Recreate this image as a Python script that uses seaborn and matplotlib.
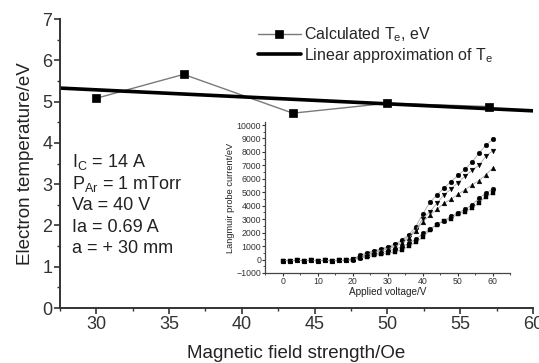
import numpy as np
import pandas as pd
import matplotlib
matplotlib.use("Agg")
import matplotlib.pyplot as plt
import seaborn as sns

# ---------------- data ----------------
field_oe = [30, 36, 43.5, 50, 57]
te_ev = [5.08, 5.66, 4.72, 4.96, 4.88]

voltage = list(range(0, 62, 2))
flat = [-80, -80, -70, -80, -70, -80, -70, -80, -70, -60]
cur_a = flat + [50, 300, 500, 650, 800, 950, 1150, 1450, 1850, 2450, 3400,
                4250, 4800, 5300, 5800, 6250, 6700, 7230, 7900, 8500, 8950]
cur_b = flat + [30, 250, 420, 580, 720, 880, 1050, 1300, 1750, 2200, 3050,
                3550, 4180, 4800, 5230, 5720, 6180, 6630, 7000, 7680, 8100]
cur_c = flat + [20, 200, 350, 500, 650, 800, 950, 1200, 1600, 2150, 2800,
                3300, 3730, 4180, 4480, 4850, 5180, 5550, 5870, 6300, 6830]
cur_d = flat + [0, 150, 280, 400, 520, 650, 780, 950, 1200, 1500, 1950,
                2250, 2630, 2870, 3200, 3470, 3730, 4050, 4550, 4970, 5230]
cur_e = flat + [-20, 100, 200, 300, 400, 480, 580, 700, 1000, 1300, 1650,
                2200, 2600, 2850, 3050, 3380, 3550, 3800, 4220, 4670, 4930]

info_lines = [r"I$_\mathregular{C}$ = 14 A", r"P$_\mathregular{Ar}$ = 1 mTorr",
              "Va = 40 V", "Ia = 0.69 A", "a = + 30 mm"]

# ---------------- style ----------------
sns.set_style("ticks")
plt.rcParams["font.family"] = ["Liberation Sans", "DejaVu Sans"]
plt.rcParams["mathtext.fontset"] = "custom"
plt.rcParams["mathtext.rm"] = "Liberation Sans"
plt.rcParams["mathtext.it"] = "Liberation Sans"

fig = plt.figure(figsize=(5.39, 3.63), dpi=100)
ax = fig.add_axes([0.111, 0.1515, 0.878, 0.796])

ax.set_xlim(27.5, 60)
ax.set_ylim(0, 7)

main_df = pd.DataFrame({"B": field_oe, "Te": te_ev})
sns.lineplot(data=main_df, x="B", y="Te", ax=ax, color="#7a7a7a", lw=1.0,
             marker="s", markersize=6, mfc="k", mec="k", mew=0.5,
             label=r"Calculated T$_\mathregular{e}$, eV")
sns.regplot(data=main_df, x="B", y="Te", ax=ax, scatter=False, ci=None,
            truncate=False, color="k", line_kws={"lw": 2.6},
            label=r"Linear approximation of T$_\mathregular{e}$")

ax.set_xlim(27.5, 60)
ax.set_ylim(0, 7)
ax.set_xticks([30, 35, 40, 45, 50, 55, 60])
ax.set_xticks(np.arange(27.5, 60.1, 2.5), minor=True)
ax.set_yticks(range(0, 8))
ax.set_yticks(np.arange(0, 7.01, 0.5), minor=True)
ax.tick_params(which="major", direction="out", length=4, width=1.2,
               labelsize=13, colors="#333333", pad=1.5)
ax.tick_params(which="minor", direction="out", length=2.5, width=1.0,
               colors="#333333")
for s in ["top", "right"]:
    ax.spines[s].set_visible(False)
for s in ["left", "bottom"]:
    ax.spines[s].set_linewidth(1.4)
    ax.spines[s].set_color("#333333")
ax.set_xlabel("Magnetic field strength/Oe", fontsize=13.5, color="#222222",
              labelpad=9)
ax.set_ylabel("Electron temperature/eV", fontsize=13.5, color="#222222",
              labelpad=6)

leg = ax.legend(loc="upper left", bbox_to_anchor=(0.478, 0.93),
                bbox_transform=fig.transFigure, frameon=False, fontsize=11.5,
                handlelength=2.7, handletextpad=0.2, labelspacing=0.1,
                borderaxespad=0, borderpad=0)

y0 = 0.553
for i, t in enumerate(info_lines):
    fig.text(0.133, y0 - i * 0.0595, t, fontsize=13, color="#222222",
             va="center", ha="left")

# ---------------- inset ----------------
ins = fig.add_axes([0.492, 0.248, 0.455, 0.415])
long = pd.DataFrame({
    "V": voltage * 5,
    "I": cur_a + cur_b + cur_c + cur_d + cur_e,
    "s": (["a"] * len(voltage) + ["b"] * len(voltage) + ["c"] * len(voltage)
          + ["d"] * len(voltage) + ["e"] * len(voltage)),
})
sns.lineplot(data=long, x="V", y="I", hue="s", style="s", ax=ins,
             palette=["#a8a8a8"] * 5, markers=["o", "v", "^", "o", "s"],
             dashes=False, lw=0.6, markersize=3.4, mfc="k", mec="k",
             mew=0.3, legend=False)
ins.set_xlim(-5, 65)
ins.set_ylim(-1000, 10200)
ins.set_xticks([0, 10, 20, 30, 40, 50, 60])
ins.set_xticks(range(-5, 66, 5), minor=True)
ins.set_yticks(range(-1000, 10001, 1000))
ins.set_yticks(range(-1000, 10001, 500), minor=True)
ins.tick_params(which="major", direction="out", length=2, width=0.8,
                labelsize=6.3, colors="#333333", pad=1)
ins.tick_params(which="minor", direction="out", length=1.2, width=0.6,
                colors="#333333")
for s in ["top", "right"]:
    ins.spines[s].set_visible(False)
for s in ["left", "bottom"]:
    ins.spines[s].set_linewidth(0.9)
    ins.spines[s].set_color("#444444")
ins.patch.set_alpha(0)
ins.set_xlabel("Applied voltage/V", fontsize=7.2, labelpad=0.5, color="#222222")
ins.set_ylabel("Langmuir probe current/eV", fontsize=6.7, labelpad=1,
               color="#222222")

fig.savefig("out.png", dpi=100)
